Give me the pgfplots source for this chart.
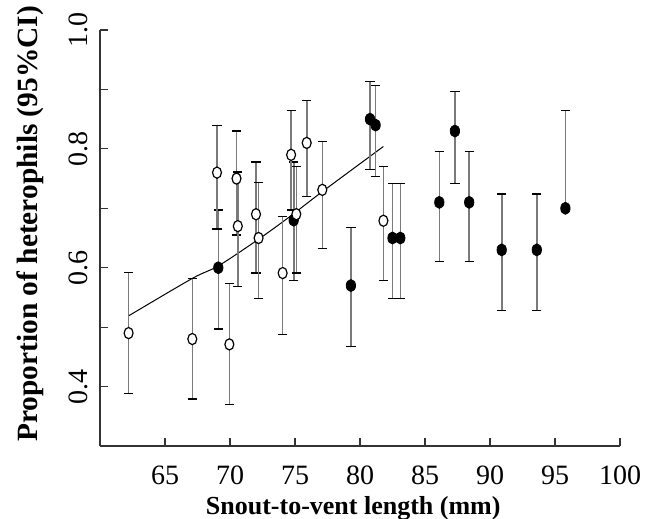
\documentclass[border=0pt]{standalone}
\usepackage{fontspec}
\setmainfont{Liberation Serif}
\usepackage{pgfplots}
\usepackage{pgfplotstable}
\pgfplotsset{compat=1.18}
\definecolor{barcol}{HTML}{7A7A7A}

% open circles: x, proportion, lower and upper 95% limits
\pgfplotstableread{
x y lo hi
62.2 0.490 0.389 0.592
67.1 0.480 0.379 0.582
69.95 0.471 0.370 0.573
69.0 0.760 0.665 0.839
70.5 0.750 0.655 0.830
70.6 0.670 0.569 0.761
72.0 0.690 0.591 0.778
72.2 0.650 0.548 0.743
74.05 0.591 0.487 0.686
74.7 0.790 0.697 0.864
75.1 0.690 0.591 0.770
75.9 0.810 0.720 0.881
77.1 0.731 0.632 0.813
81.8 0.679 0.579 0.770
}\opendata

% filled circles
\pgfplotstableread{
x y lo hi
69.1 0.600 0.497 0.697
74.9 0.680 0.579 0.778
79.3 0.570 0.468 0.668
80.77 0.850 0.765 0.913
81.2 0.840 0.753 0.906
82.5 0.650 0.548 0.742
83.1 0.650 0.548 0.742
86.1 0.710 0.611 0.796
87.3 0.830 0.742 0.897
88.4 0.710 0.611 0.796
90.9 0.630 0.528 0.724
93.6 0.630 0.528 0.724
95.8 0.700 0.700 0.864
}\filldata

\begin{document}
\begin{tikzpicture}
\begin{axis}[
  scale only axis,
  width=260pt, height=208pt,
  xmin=60, xmax=100,
  ymin=0.3, ymax=1.0,
  axis lines=left,
  axis line style={-, black!80, line width=0.7pt},
  xtick={65,70,...,100},
  ytick={0.4,0.6,0.8,1.0},
  minor ytick={0.5,0.7,0.9},
  tick align=inside,
  major tick length=4pt, minor tick length=4pt,
  tick style={black!80, line width=0.6pt},
  /pgf/number format/assume math mode=true,
  /pgf/number format/fixed,
  /pgf/number format/fixed zerofill,
  /pgf/number format/precision=1,
  xticklabel style={font=\fontsize{14}{16}\selectfont, anchor=center, yshift=-14.5pt},
  xticklabel={\pgfmathprintnumber[fixed,precision=0]{\tick}},
  yticklabel style={font=\fontsize{14}{16}\selectfont, rotate=90, anchor=center, yshift=11pt},
  xlabel={\textbf{Snout-to-vent length (mm)}},
  ylabel={\textbf{Proportion of heterophils (95\%CI)}},
  xlabel style={font=\fontsize{13}{15}\selectfont, at={(axis description cs:0.487,-0.150)}, anchor=center},
  ylabel style={font=\fontsize{14.7}{17}\selectfont, at={(axis description cs:-0.135,0.534)}, anchor=center, rotate=0},
  clip=false,
]
  % fitted curve
  \addplot[black, line width=0.5pt, smooth, tension=0.5] coordinates {
    (62.2,0.519) (67.1,0.582) (69.1,0.603) (72.2,0.648) (74.6,0.686) (77.1,0.728) (81.8,0.804)
  };

  \addplot[
    only marks, mark=*, mark size=3pt,
    mark options={fill=black, draw=black, xscale=0.78},
    error bars/.cd, y dir=both, y explicit,
    error bar style={barcol, line width=0.8pt},
    error mark options={black, mark size=2.3pt, line width=0.6pt, rotate=90},
  ] table[x=x, y=y,
    y error plus expr=\thisrow{hi}-\thisrow{y},
    y error minus expr=\thisrow{y}-\thisrow{lo}] {\filldata};

  \addplot[
    only marks, mark=*, mark size=2.8pt,
    mark options={fill=white, draw=black, line width=0.6pt, xscale=0.8},
    error bars/.cd, y dir=both, y explicit,
    error bar style={barcol, line width=0.8pt},
    error mark options={black, mark size=2.3pt, line width=0.6pt, rotate=90},
  ] table[x=x, y=y,
    y error plus expr=\thisrow{hi}-\thisrow{y},
    y error minus expr=\thisrow{y}-\thisrow{lo}] {\opendata};
\end{axis}
\pgfresetboundingbox
\useasboundingbox (-50pt,-36pt) rectangle (278pt,223pt);
\end{tikzpicture}
\end{document}
